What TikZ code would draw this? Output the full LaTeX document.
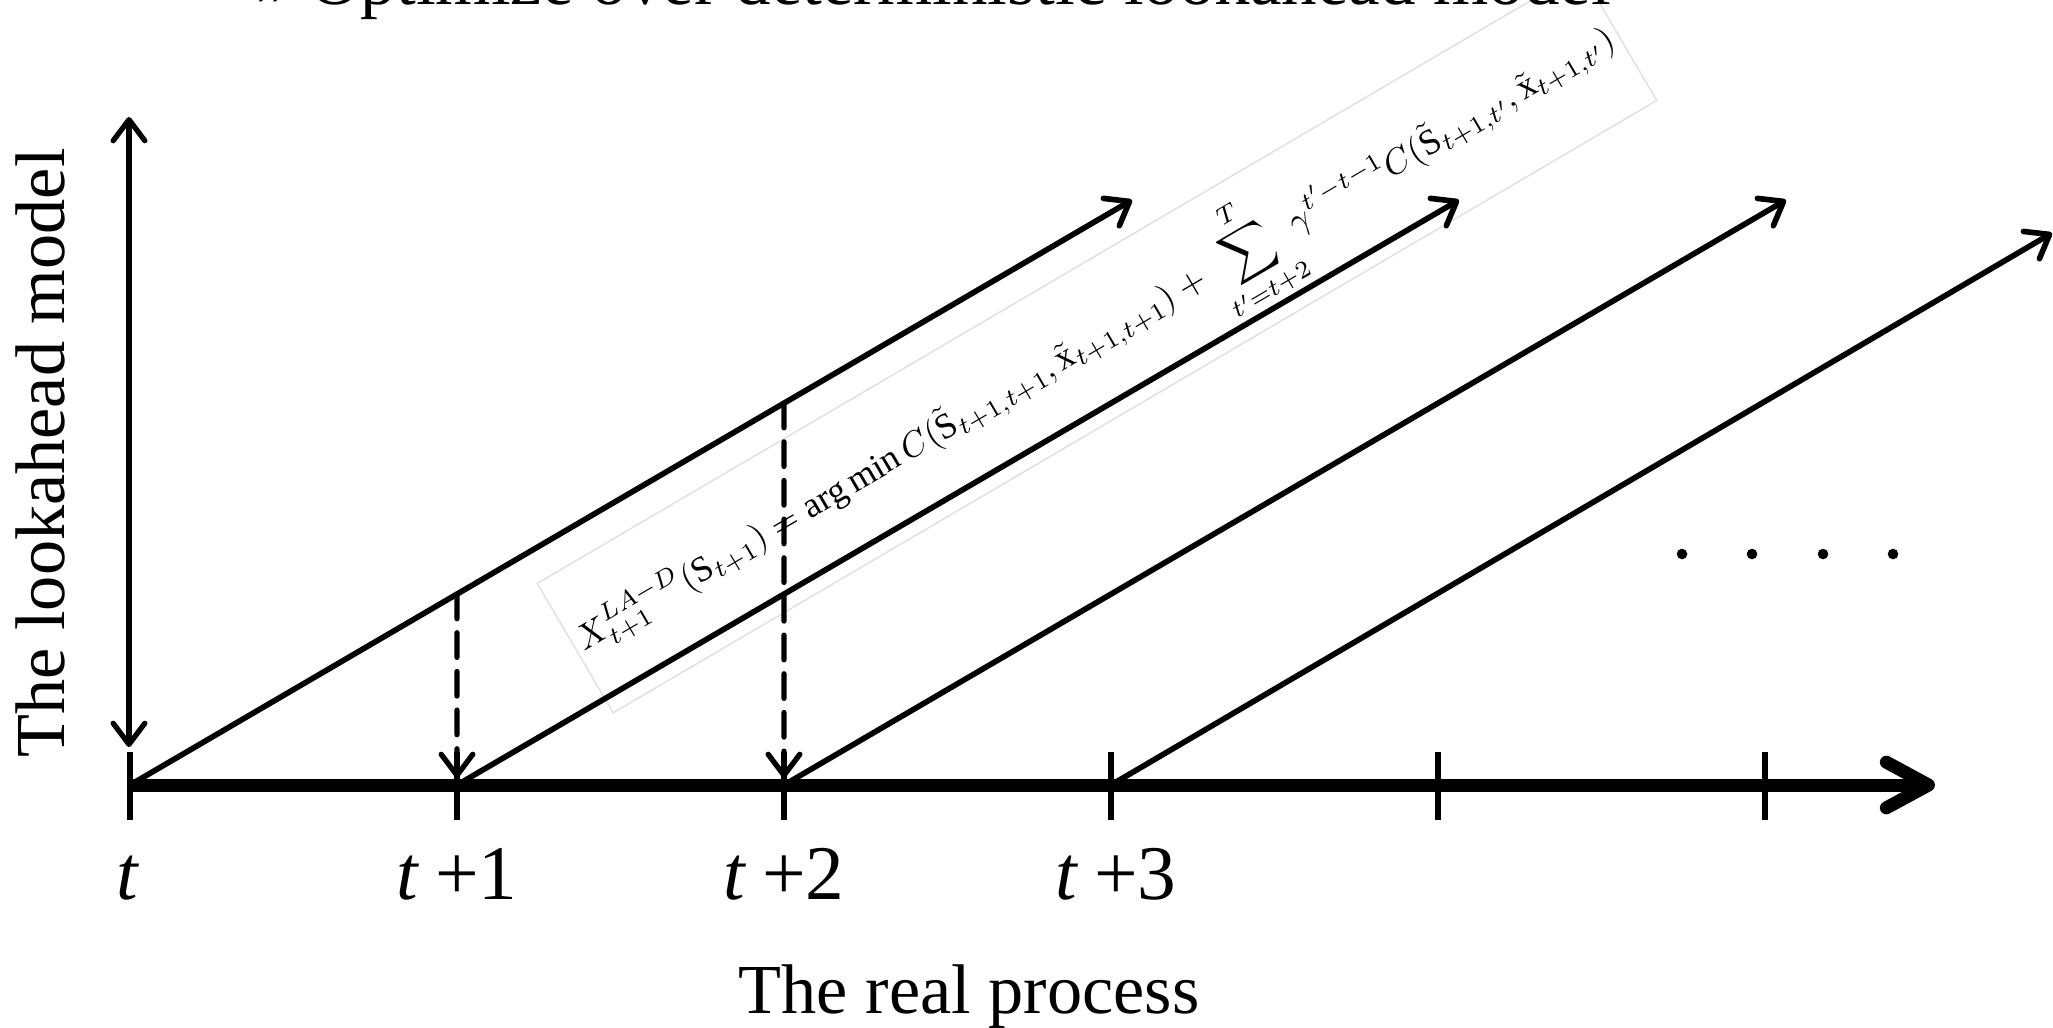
\documentclass[tikz,border=0pt]{standalone}
\usepackage{amsmath,amssymb}
\usepackage{fontspec}
\setmainfont{Liberation Serif}
\usepackage{tikz}
\usetikzlibrary{arrows.meta,calc}

\tikzset{
  barb/.style={-{Straight Barb[length=6pt,width=9pt,round]}},
  lookline/.style={line width=1.6pt,barb},
  tlabel/.style={font=\fontsize{22}{26}\selectfont,anchor=base},
  band/.style={draw=black!12,line width=.4pt,fill=white,inner sep=0pt,
    minimum width=12.1cm,minimum height=1.5cm,font=\fontsize{10.2}{12}\selectfont},
}

\begin{document}
\begin{tikzpicture}[line cap=round]
  \path[use as bounding box] (-1.30,-2.42) rectangle (19.23,7.85);
  \clip (-1.30,-2.42) rectangle (19.23,7.85);
  % time steps of the real process
  \foreach \i in {0,...,5} \coordinate (k\i) at (3.27*\i,0);
  \coordinate (axend) at (18.05,0);
  % formula on its band
  \node[band,rotate=30.4] (formula) at (9.67,4.43)
    {$\displaystyle X^{LA-D}_{t+1}(\mathrm{S}_{t+1}) = \arg\min C(\tilde{\mathrm{S}}_{t+1,t+1},\tilde{\mathrm{x}}_{t+1,t+1}) + \sum_{t'=t+2}^{T}\gamma^{t'-t-1}C(\tilde{\mathrm{S}}_{t+1,t'},\tilde{\mathrm{x}}_{t+1,t'})$};
  % lookahead models
  \draw[lookline] (k0) -- ++(10.02,5.85) coordinate (e0)
    coordinate[pos=.3263] (m1) coordinate[pos=.6527] (m2);
  \draw[lookline] (k1) -- ++(10.02,5.85) coordinate (e1);
  \draw[lookline] (k2) -- ++(10.02,5.85) coordinate (e2);
  \draw[lookline] (k3) -- ++(9.41,5.52) coordinate (e3);
  \draw[line width=1.5pt,dash pattern=on 7pt off 4pt,barb] (m1) -- ($(k1)+(0,.07)$);
  \draw[line width=1.5pt,dash pattern=on 7pt off 4pt,barb] (m2) -- ($(k2)+(0,.07)$);
  % axes
  \coordinate (vbot) at (-.01,.38);
  \coordinate (vtop) at (-.01,6.68);
  \draw[line width=1.5pt,{Straight Barb[length=6pt,width=9pt,round]}-{Straight Barb[length=6pt,width=9pt,round]}] (vbot) -- (vtop);
  \draw[line width=3.7pt,line cap=butt,-{Straight Barb[length=12pt,width=13pt,round]}] (k0) -- (axend);
  \foreach \i in {0,...,5} \draw[line width=1.8pt,line cap=butt] ($(k\i)+(0,.33)$) -- ($(k\i)+(0,-.35)$);
  \foreach \x in {15.52,16.22,16.93,17.63} \fill (\x,2.31) circle (.053);
  % labels
  \node[tlabel] (lk0) at ($(k0)+(-.02,-1.14)$) {\textit{t}};
  \node[tlabel] (lk1) at ($(k1)+(0,-1.14)$) {\textit{t}\hspace{.2em}+1};
  \node[tlabel] (lk2) at ($(k2)+(0,-1.14)$) {\textit{t}\hspace{.2em}+2};
  \node[tlabel] (lk3) at ($(k3)+(.05,-1.14)$) {\textit{t}\hspace{.2em}+3};
  \node[font=\fontsize{20}{24}\selectfont,anchor=base] (real) at (8.39,-2.28) {The real process};
  \node[font=\fontsize{20}{24}\selectfont,anchor=base,rotate=90] (look) at (-.66,3.32) {The lookahead model};
  \node[font=\fontsize{20.2}{24}\selectfont,anchor=base west] (title) at (1.14,7.80) {» Optimize over deterministic lookahead model};
\end{tikzpicture}
\end{document}
